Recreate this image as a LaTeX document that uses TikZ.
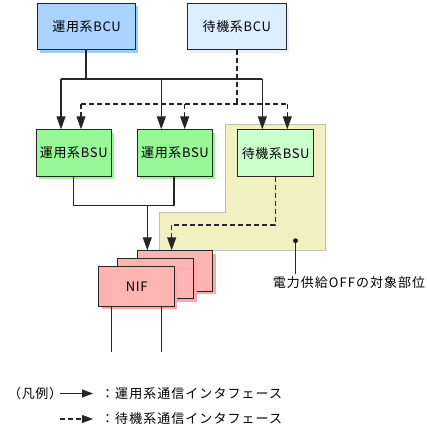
\documentclass[tikz,border=0pt]{standalone}
\usepackage{fontspec}
\setmainfont{Noto Sans CJK JP}
\usetikzlibrary{arrows.meta}
\definecolor{bcuA}{HTML}{AAD4FF}
\definecolor{bcuAs}{HTML}{9CCCFF}
\definecolor{bcuB}{HTML}{DDEEFF}
\definecolor{bcuBs}{HTML}{E6F2FF}
\definecolor{bsuA}{HTML}{98F898}
\definecolor{bsuB}{HTML}{CCFFCC}
\definecolor{nifc}{HTML}{FFB4B4}
\definecolor{nifs}{HTML}{FFA8A8}
\definecolor{offc}{HTML}{F0F0C0}
\definecolor{offb}{HTML}{BEBEBE}
\tikzset{
  txt/.style={font=\fontsize{13}{13}\selectfont\addfontfeature{LetterSpace=5}},
  wtxt/.style={font=\fontsize{13}{13}\selectfont\addfontfeature{LetterSpace=8}},
  box/.style={draw=black!85, line width=1.1pt, inner sep=0pt, txt},
  conn/.style={draw=black!85, line width=1.1pt},
  arr/.style={conn, -{Triangle[length=13pt,width=9pt]}},
  dashy/.style={dash pattern=on 5pt off 3pt},
  darr/.style={arr, dashy},
  dln/.style={conn, dashy},
}
\begin{document}
\begin{tikzpicture}[x=1pt,y=-1pt]
\useasboundingbox (0,0) rectangle (427,431);
% yellow region
\draw[fill=offc, draw=offb, line width=0.9pt] (225,124) -- (325.5,124) -- (325.5,250) -- (159,250) -- (159,212.5) -- (225,212.5) -- cycle;
% BCU
\fill[bcuAs] (40,6) rectangle (138,52.5);
\node[box, fill=bcuA, minimum width=98pt, minimum height=46pt, anchor=north west] (bcua) at (37,3) {運用系BCU};
\fill[bcuBs] (189.5,6) rectangle (288.5,52.5);
\node[box, fill=bcuB, minimum width=98.5pt, minimum height=46pt, anchor=north west] (bcub) at (187,3) {待機系BCU};
% BSU
\fill[bsuA] (38.5,132.5) rectangle (114,179);
\node[box, fill=bsuA, minimum width=75.5pt, minimum height=46.5pt, anchor=north west] (bsu1) at (35.5,129.3) {運用系BSU};
\fill[bsuA] (139.5,132.5) rectangle (215,179);
\node[box, fill=bsuA, minimum width=75.5pt, minimum height=46.5pt, anchor=north west] (bsu2) at (136.7,129.3) {運用系BSU};
\node[box, fill=bsuB, minimum width=76.3pt, minimum height=46.5pt, anchor=north west] (bsu3) at (237,129.3) {待機系BSU};
% NIF
\fill[nifs] (140.5,253.5) rectangle (215.5,294);
\node[box, fill=nifc, minimum width=75pt, minimum height=40.7pt, anchor=north west] (nif3) at (137.3,250.3) {};
\fill[nifs] (120.5,261.5) rectangle (196.5,301.5);
\node[box, fill=nifc, minimum width=76pt, minimum height=40pt, anchor=north west] (nif2) at (117.3,258.3) {};
\fill[nifs] (101.5,269) rectangle (177,309);
\node[box, fill=nifc, minimum width=75.7pt, minimum height=40.3pt, anchor=north west] (nif1) at (98.3,265.7) {NIF};
% active lines from BCU
\coordinate (ja) at (86,79);
\draw[conn] (bcua.south -| ja) -- (ja);
\draw[conn] (61,79) -- (262.3,79);
\draw[arr] (61,79) -- (bsu1.north -| 61,0);
\draw[arr] (161.3,79) -- (bsu2.north -| 161.3,0);
\draw[arr] (262.3,79) -- (bsu3.north -| 262.3,0);
% standby lines from BCU
\coordinate (jb) at (237,104);
\draw[dln] (bcub.south -| jb) -- (jb);
\draw[dln] (81,104) -- (287.3,104);
\draw[darr] (81,104) -- (bsu1.north -| 81,0);
\draw[darr] (184.7,104) -- (bsu2.north -| 184.7,0);
\draw[darr] (287.3,104) -- (bsu3.north -| 287.3,0);
% BSU to NIF
\coordinate (jc) at (147.3,205.3);
\draw[conn] (bsu1.south -| 73.3,0) |- (jc);
\draw[conn] (bsu2.south -| 174,0) |- (jc);
\draw[arr] (jc) -- (nif3.north -| jc);
\coordinate (jd) at (171.7,225);
\draw[dln] (bsu3.south -| 275.3,0) |- (jd);
\draw[darr] (jd) -- (nif3.north -| jd);
% NIF lines
\coordinate (e1) at (111.7,352);
\coordinate (e2) at (161.7,352);
\draw[conn] (nif1.south -| e1) -- (e1);
\draw[conn] (nif1.south -| e2) -- (e2);
% callout
\coordinate (dot) at (295.5,240.7);
\fill[black] (dot) circle (2.4pt);
\node[inner sep=0pt, wtxt] (lbl) at (349,282.5) {電力供給OFFの対象部位};
\draw[conn] (dot) -- (295.5,274);
% legend
\node[anchor=west, inner sep=0pt, txt] (leg) at (8,393.5) {（凡例）};
\coordinate (l1a) at (60,393.5);
\coordinate (l1b) at (93,393.5);
\draw[arr, -{Triangle[length=11pt,width=8pt]}] (l1a) -- (l1b);
\node[anchor=west, inner sep=0pt, wtxt] (t1) at (101,393.5) {：運用系通信インタフェース};
\coordinate (l2a) at (60,419);
\coordinate (l2b) at (93,419);
\draw[darr, -{Triangle[length=11pt,width=8pt]}] (l2a) -- (l2b);
\node[anchor=west, inner sep=0pt, wtxt] (t2) at (101,419) {：待機系通信インタフェース};
\end{tikzpicture}
\end{document}
